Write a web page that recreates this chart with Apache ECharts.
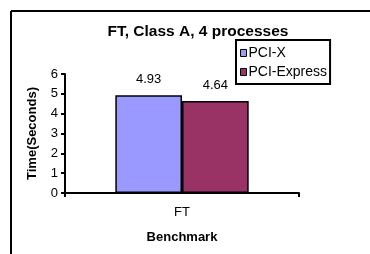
<!DOCTYPE html>
<html>
<head>
<meta charset="utf-8">
<script src="https://cdn.jsdelivr.net/npm/echarts@6/dist/echarts.min.js"></script>
<style>
  html, body { margin: 0; padding: 0; background: #fff; }
  #chart { width: 370px; height: 254px; }
</style>
</head>
<body>
<div id="chart"></div>
<script>
// data
const categories = ['FT']
const seriesNames = ['PCI-X', 'PCI-Express']
const pciX = [4.93]
const pciExpress = [4.64]
const colors = ['#9999FF', '#993366']

const font = 'Liberation Sans, Arial, sans-serif'

const chart = echarts.init(document.getElementById('chart'))

const option = {
  animation: false,
  title: {
    text: 'FT, Class A, 4 processes',
    left: 193,
    textAlign: 'center',
    top: 19,
    textStyle: { fontFamily: font, fontSize: 15.5, fontWeight: 'bold', color: '#000' }
  },
  legend: {
    orient: 'vertical',
    left: 236,
    top: 40,
    padding: [6, 3, 5, 4],
    itemGap: 5,
    itemWidth: 6,
    itemHeight: 7,
    icon: 'rect',
    borderColor: '#000',
    borderWidth: 2,
    itemStyle: { borderColor: '#000', borderWidth: 1 },
    textStyle: { fontFamily: font, fontSize: 14, color: '#000', padding: [0, 0, 0, -3] },
    data: seriesNames
  },
  grid: { left: 65, right: 71, top: 74, bottom: 61 },
  xAxis: {
    type: 'category',
    data: categories,
    name: 'Benchmark',
    nameLocation: 'middle',
    nameGap: 38,
    nameTextStyle: { fontFamily: font, fontSize: 13, fontWeight: 'bold', color: '#000' },
    axisLine: { lineStyle: { color: '#000', width: 2 } },
    axisTick: { show: true, length: 4, lineStyle: { color: '#000', width: 2 } },
    axisLabel: { fontFamily: font, fontSize: 13, color: '#000', margin: 13 }
  },
  yAxis: {
    type: 'value',
    min: 0,
    max: 6,
    interval: 1,
    name: 'Time(Seconds)',
    nameLocation: 'middle',
    nameGap: 26,
    nameTextStyle: { fontFamily: font, fontSize: 13, fontWeight: 'bold', color: '#000' },
    axisLine: { show: true, lineStyle: { color: '#000', width: 2 } },
    axisTick: { show: true, length: 4, lineStyle: { color: '#000', width: 2 } },
    axisLabel: { fontFamily: font, fontSize: 13, color: '#000', margin: 7 },
    splitLine: { show: false }
  },
  series: [
    {
      name: seriesNames[0],
      type: 'bar',
      data: pciX,
      barGap: 0,
      barCategoryGap: '43%',
      itemStyle: { color: colors[0], borderColor: '#000', borderWidth: 1.5 },
      label: { show: true, position: 'top', distance: 9, fontFamily: font, fontSize: 13, color: '#000' }
    },
    {
      name: seriesNames[1],
      type: 'bar',
      data: pciExpress,
      itemStyle: { color: colors[1], borderColor: '#000', borderWidth: 1.5 },
      label: { show: true, position: 'top', distance: 9, fontFamily: font, fontSize: 13, color: '#000' }
    }
  ],
  graphic: [
    // outer frame, only top and left edges are visible in the picture
    { type: 'line', shape: { x1: 11, y1: 11, x2: 370, y2: 11 }, style: { stroke: '#000', lineWidth: 2 } },
    { type: 'line', shape: { x1: 11, y1: 11, x2: 11, y2: 254 }, style: { stroke: '#000', lineWidth: 2 } }
  ]
}

chart.setOption(option)
</script>
</body>
</html>
